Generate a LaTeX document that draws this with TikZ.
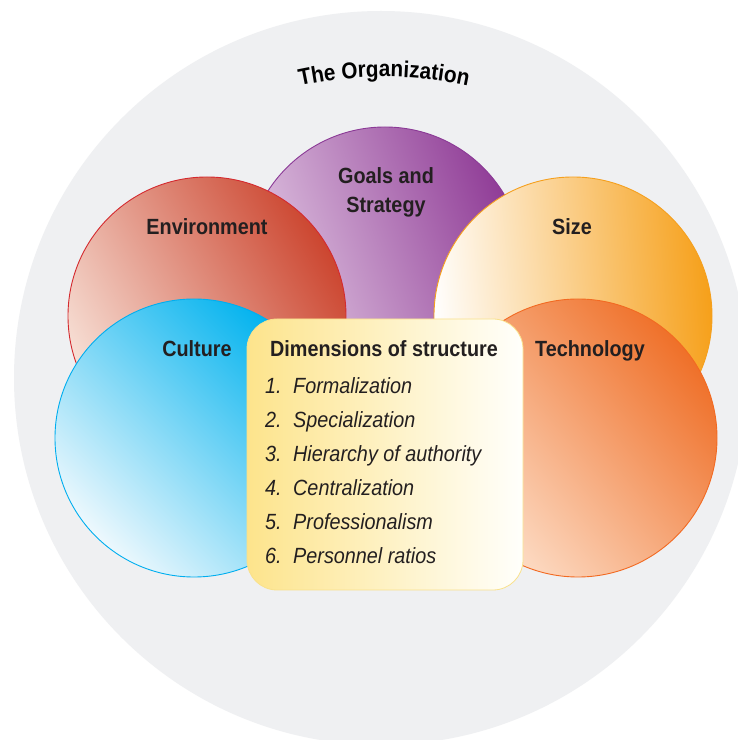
\documentclass[tikz,border=0pt]{standalone}
\usepackage{fontspec}
\setmainfont[FakeStretch=0.9]{Liberation Sans}
\usetikzlibrary{decorations.text}
\definecolor{ink}{HTML}{231F20}
\definecolor{orggrey}{HTML}{EFF0F2}
\definecolor{envl}{HTML}{F7E0D6}
\definecolor{envd}{HTML}{CC4630}
\definecolor{envb}{HTML}{D42A2F}
\definecolor{goall}{HTML}{E6D0E7}
\definecolor{goald}{HTML}{8F3B96}
\definecolor{goalb}{HTML}{8B3A96}
\definecolor{sizel}{HTML}{FFFFFF}
\definecolor{sized}{HTML}{F6A01A}
\definecolor{sizeb}{HTML}{F5A01E}
\definecolor{cultl}{HTML}{EDF8FD}
\definecolor{cultd}{HTML}{00B2EE}
\definecolor{cultb}{HTML}{00AEEF}
\definecolor{techl}{HTML}{FDE0CB}
\definecolor{techd}{HTML}{EF7029}
\definecolor{techb}{HTML}{F26A22}
\definecolor{boxl}{HTML}{FDE48C}
\definecolor{boxr}{HTML}{FFFFFC}
\definecolor{boxb}{HTML}{F9E18B}
\begin{document}
\begin{tikzpicture}[x=1pt,y=1pt,
  disc/.style={circle, inner sep=0pt, outer sep=0pt, minimum size=278pt, line width=0.9pt},
  head/.style={font=\fontsize{22}{24}\selectfont\bfseries, text=ink, anchor=base, inner sep=0pt},
  num/.style={font=\fontsize{22}{24}\selectfont\itshape, text=ink, anchor=base west, inner sep=0pt},
  itemtext/.style={font=\fontsize{22}{24}\selectfont\itshape, text=ink, anchor=base west, inner sep=0pt}]
\useasboundingbox (0,0) rectangle (738,740);
\clip (0,0) rectangle (738,740);
\fill[white] (0,0) rectangle (738,740);
\node[circle, fill=orggrey, minimum size=734pt, inner sep=0pt] (org) at (381,362) {};
\path[decorate, color=ink, decoration={text along path, text align=center,
  text={|\fontsize{23}{23}\selectfont\bfseries|The Organization}}]
  (384,264) ++(110:399) arc[start angle=110, end angle=70, radius=399];
\node[disc, draw=goalb, top color=goall, bottom color=goald, shading angle=110] (goals) at (385,474) {};
\node[disc, draw=envb, top color=envl, bottom color=envd, shading angle=120] (env) at (207,424) {};
\node[disc, draw=sizeb, top color=sizel, bottom color=sized, shading angle=95] (size) at (573,424) {};
\node[disc, draw=cultb, top color=cultl, bottom color=cultd, shading angle=135] (cult) at (194,302) {};
\node[disc, draw=techb, top color=techl, bottom color=techd, shading angle=130] (tech) at (578,302) {};
\node[rectangle, rounded corners=30pt, minimum width=276pt, minimum height=271pt, inner sep=0pt,
  draw=boxb, line width=0.8pt, left color=boxl, right color=boxr] (dims) at (385,285.5) {};
\node[head] (goalsA) at (386,556) {Goals and};
\node[head] (goalsB) at (386,527) {Strategy};
\node[head] (envT) at (207,505) {Environment};
\node[head] (sizeT) at (572,505) {Size};
\node[head] (cultT) at (197,383) {Culture};
\node[head] (techT) at (590,383) {Technology};
\node[head] (dimsT) at (384,383) {Dimensions of structure};
\node[num] (n1) at (265,346.5) {1.};
\node[num] (n2) at (265,312.5) {2.};
\node[num] (n3) at (265,278.5) {3.};
\node[num] (n4) at (265,244.5) {4.};
\node[num] (n5) at (265,210.5) {5.};
\node[num] (n6) at (265,176.5) {6.};
\node[itemtext] (i1) at (293,346.5) {Formalization};
\node[itemtext] (i2) at (293,312.5) {Specialization};
\node[itemtext] (i3) at (293,278.5) {Hierarchy of authority};
\node[itemtext] (i4) at (293,244.5) {Centralization};
\node[itemtext] (i5) at (293,210.5) {Professionalism};
\node[itemtext] (i6) at (293,176.5) {Personnel ratios};
\end{tikzpicture}
\end{document}
